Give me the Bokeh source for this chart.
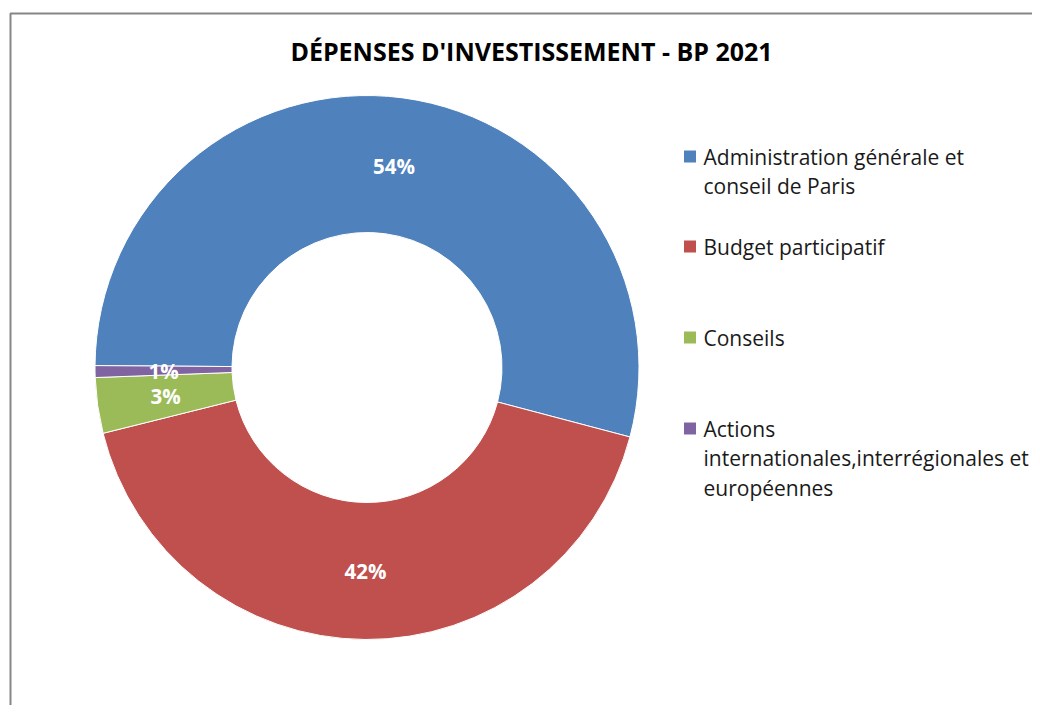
import math
from bokeh.plotting import figure
from bokeh.models import Range1d, BoxAnnotation, ColumnDataSource
from bokeh.core.properties import value
from bokeh.embed import file_html
from bokeh.resources import INLINE

# ---- data ----
categories = [
    "Administration générale et conseil de Paris",
    "Budget participatif",
    "Conseils",
    "Actions internationales,interrégionales et européennes",
]
legend_lines = [
    ["Administration générale et", "conseil de Paris"],
    ["Budget participatif"],
    ["Conseils"],
    ["Actions", "internationales,interrégionales et", "européennes"],
]
shares = [54.0, 42.0, 3.3, 0.7]
colors = ["#4F81BD", "#C0504D", "#9BBB59", "#8064A2"]
title_text = "DÉPENSES D'INVESTISSEMENT - BP 2021"

# ---- layout (screenshot pixel coordinates) ----
W, H = 1032, 705
FONT = "Open Sans"
def Y(img_y):
    return H - img_y

p = figure(width=W, height=H, output_backend="svg", toolbar_location=None,
           x_range=Range1d(0, W), y_range=Range1d(0, H),
           x_axis_location=None, y_axis_location=None, min_border=0)
p.grid.visible = False
p.outline_line_color = None
p.background_fill_color = "white"
p.border_fill_color = "white"

# chart area border
p.add_layout(BoxAnnotation(left=10, right=1100, top=Y(13), bottom=-50,
                           fill_alpha=0, line_color="#868686", line_alpha=1.0,
                           line_width=2))

cx, cy = 366.5, Y(367)
r_out, r_in = 272, 135
start_deg = 179.6  # first slice starts here, slices go clockwise

total = sum(shares)
starts, ends, mids = [], [], []
cum = 0.0
for v in shares:
    a0 = start_deg - cum / total * 360
    cum += v
    a1 = start_deg - cum / total * 360
    starts.append(math.radians(a1))
    ends.append(math.radians(a0))
    mids.append(math.radians((a0 + a1) / 2))

src = ColumnDataSource(dict(start=starts, end=ends, color=colors, cat=categories))
p.annular_wedge(x=cx, y=cy, inner_radius=r_in, outer_radius=r_out,
                inner_radius_units="screen", outer_radius_units="screen",
                start_angle="start", end_angle="end", direction="anticlock",
                fill_color="color", line_color="white", line_width=1, source=src)

# data labels
r_mid = (r_in + r_out) / 2
lx = [cx + r_mid * math.cos(m) for m in mids]
ly = [cy + r_mid * math.sin(m) for m in mids]
lt = [f"{round(v)}%" for v in shares]
p.text(x=lx, y=ly, text=lt, text_color="white", text_font=value(FONT),
       text_font_style="bold", text_font_size="20.5px",
       text_align="center", text_baseline="middle")

# title
p.text(x=[531], y=[Y(50)], text=[title_text], text_color="black",
       text_font=value(FONT), text_font_style="bold", text_font_size="25px",
       text_align="center", text_baseline="middle")

# legend
item_y = [156, 246, 337, 428]
line_gap = 29.5
sq_x, tx = 689.5, 703
p.rect(x=[sq_x] * 4, y=[Y(v) for v in item_y], width=12, height=12,
       width_units="screen", height_units="screen",
       fill_color=colors, line_color=None)
txs, tys, tts = [], [], []
for iy, lines in zip(item_y, legend_lines):
    for k, t in enumerate(lines):
        txs.append(tx)
        tys.append(Y(iy + k * line_gap))
        tts.append(t)
p.text(x=txs, y=tys, text=tts, text_color="#1a1a1a", text_font=value(FONT),
       text_font_size="21px", text_align="left", text_baseline="middle")

open("out.html", "w").write(file_html(p, INLINE))
